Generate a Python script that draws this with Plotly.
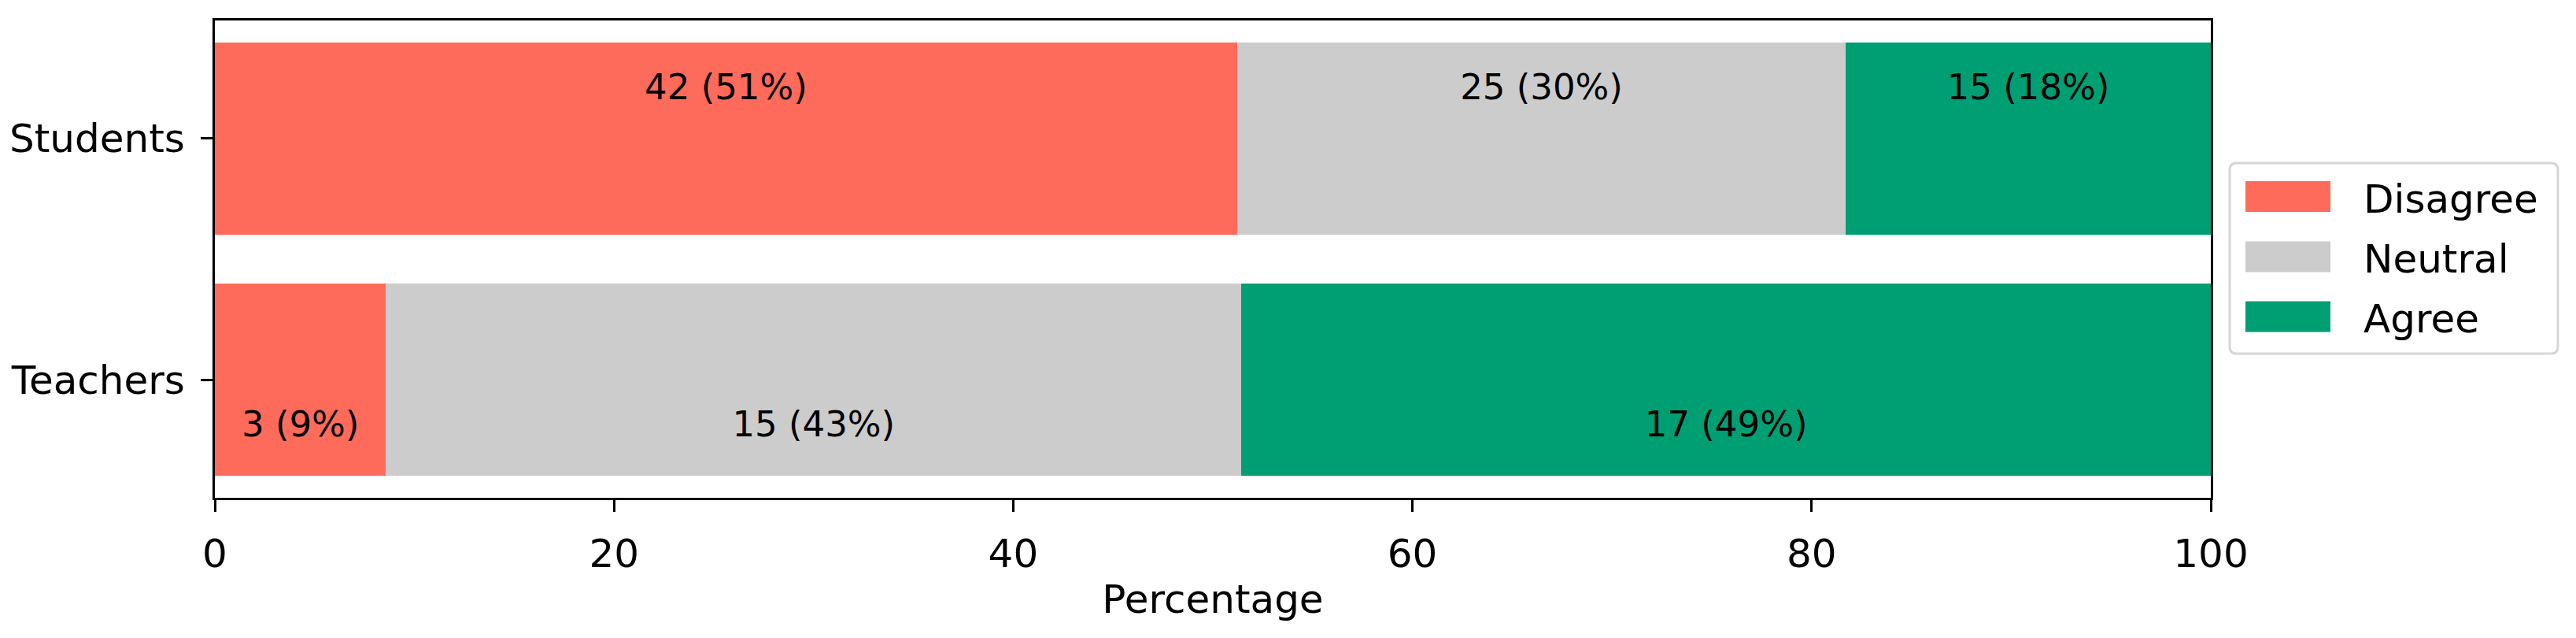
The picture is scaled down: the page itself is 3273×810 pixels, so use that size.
import plotly.graph_objects as go

groups = ["Teachers", "Students"]
categories = ["Disagree", "Neutral", "Agree"]
disagree = [3, 42]
neutral = [15, 25]
agree = [17, 15]
colors = ["#ff6b5b", "#cccccc", "#009e73"]
label_y = [-0.2, 1.2]
x_ticks = [0, 20, 40, 60, 80, 100]

# page body has an 8px default margin
OFF = 8
W, H = 3273 - OFF, 810 - OFF
L, R, T, B = 273 - OFF, 2809 - OFF, 26 - OFF, 632 - OFF
FONT = "DejaVu Sans"

counts = [disagree, neutral, agree]
totals = [sum(c[i] for c in counts) for i in range(len(groups))]
pcts = [[c[i] / totals[i] * 100 for i in range(len(groups))] for c in counts]

fig = go.Figure()
ypos = list(range(len(groups)))
for k, name in enumerate(categories):
    fig.add_trace(go.Bar(
        y=ypos, x=pcts[k], orientation="h", name=name,
        marker=dict(color=colors[k], line=dict(width=0)), width=0.8,
        showlegend=False, hoverinfo="skip"))

# bar labels
lx, ly, lt = [], [], []
for i in range(len(groups)):
    base = 0
    for k in range(len(categories)):
        p = pcts[k][i]
        lx.append(base + p / 2)
        ly.append(label_y[i])
        lt.append(f"{counts[k][i]} ({round(p):d}%)")
        base += p
fig.add_trace(go.Scatter(x=lx, y=ly, mode="text", text=lt,
                         textposition="middle center",
                         textfont=dict(family=FONT, size=45, color="black"),
                         showlegend=False, hoverinfo="skip"))

def px(X):
    return (X - OFF - L) / (R - L)

def py(Y):
    return (B - (Y - OFF)) / (B - T)

shapes = []
# legend box with rounded corners (full-page pixel coords)
bx0, bx1, by0, by1, r = 2833, 3250, 207, 449, 9
path = (f"M {px(bx0 + r)},{py(by0)} L {px(bx1 - r)},{py(by0)} "
        f"Q {px(bx1)},{py(by0)} {px(bx1)},{py(by0 + r)} "
        f"L {px(bx1)},{py(by1 - r)} Q {px(bx1)},{py(by1)} {px(bx1 - r)},{py(by1)} "
        f"L {px(bx0 + r)},{py(by1)} Q {px(bx0)},{py(by1)} {px(bx0)},{py(by1 - r)} "
        f"L {px(bx0)},{py(by0 + r)} Q {px(bx0)},{py(by0)} {px(bx0 + r)},{py(by0)} Z")
shapes.append(dict(type="path", xref="paper", yref="paper", path=path,
                   line=dict(color="#d6d6d6", width=3), fillcolor="rgba(255,255,255,0.8)",
                   layer="above"))
annotations = []
row_centers = [249.5, 326, 402]
for k, name in enumerate(categories):
    yc = row_centers[k]
    shapes.append(dict(type="rect", xref="paper", yref="paper",
                       x0=px(2853), x1=px(2961), y0=py(yc - 19.5), y1=py(yc + 19.5),
                       fillcolor=colors[k], line=dict(width=0), layer="above"))
    annotations.append(dict(xref="paper", yref="paper", x=px(3001), y=py(yc + 3),
                            text=name, showarrow=False, xanchor="left", yanchor="middle",
                            font=dict(family=FONT, size=50, color="black")))

fig.update_layout(
    width=W, height=H,
    margin=dict(l=L, r=W - R, t=T, b=H - B, pad=0, autoexpand=False),
    paper_bgcolor="white", plot_bgcolor="white",
    barmode="stack", bargap=0.2,
    font=dict(family=FONT, size=50, color="black"),
    showlegend=False,
    shapes=shapes, annotations=annotations,
)
fig.update_xaxes(range=[0, 100], tickvals=x_ticks, ticktext=[str(v) for v in x_ticks],
                 showline=True, linecolor="black", linewidth=3.3, mirror=True,
                 ticks="outside", ticklen=15, tickwidth=3.3, tickcolor="black",
                 showgrid=False, zeroline=False, ticklabelstandoff=10, automargin=False,
                 tickfont=dict(family=FONT, size=50),
                 title=dict(text="Percentage", font=dict(family=FONT, size=50), standoff=12))
fig.update_yaxes(range=[-0.49, 1.49], tickvals=ypos, ticktext=groups,
                 showline=True, linecolor="black", linewidth=3.3, mirror=True,
                 ticks="outside", ticklen=15, tickwidth=3.3, tickcolor="black",
                 showgrid=False, zeroline=False, ticklabelstandoff=10, automargin=False,
                 tickfont=dict(family=FONT, size=50))

fig.write_html("out.html")
